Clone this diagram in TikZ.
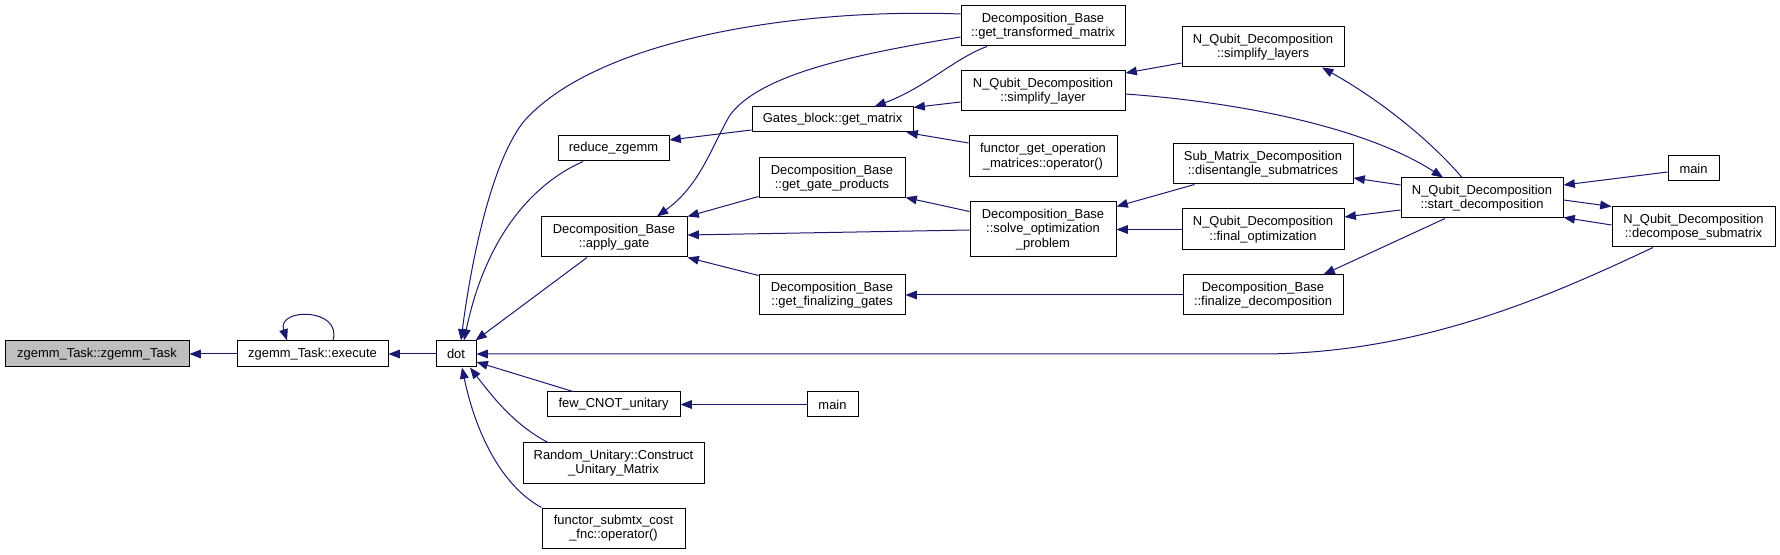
\documentclass[tikz,border=0pt]{standalone}
\usepackage{fontspec}
\setmainfont{Liberation Sans}
\usetikzlibrary{arrows.meta,calc}
\definecolor{edgeblue}{HTML}{191970}
\definecolor{curfill}{HTML}{BFBFBF}
\tikzset{
  fn/.style={draw=black,line width=0.75pt,rectangle,inner sep=0pt,align=center,
    font=\fontsize{9.7pt}{10.8pt}\selectfont},
  wh/.style 2 args={minimum width=#1*0.75pt,minimum height=#2*0.75pt},
  call/.style={draw=edgeblue,line width=0.75pt,-{Triangle[length=8.5pt,width=6.5pt]}},
}
\begin{document}
\begin{tikzpicture}[x=0.75pt,y=-0.75pt]
\useasboundingbox (0,0) rectangle (1780,555);
% nodes
\node[fn,wh={184}{26},fill=curfill] (zt) at (97,354) {zgemm\_Task::zgemm\_Task};
\node[fn,wh={151}{26}] (ex) at (312.5,354) {zgemm\_Task::execute};
\node[fn,wh={40}{26}] (dot) at (456,354) {dot};
\node[fn,wh={111}{25}] (rz) at (613.5,148.5) {reduce\_zgemm};
\node[fn,wh={146}{40}] (ag) at (614,237) {Decomposition\_Base\\::apply\_gate};
\node[fn,wh={133}{25}] (fc) at (613.5,404.5) {few\_CNOT\_unitary};
\node[fn,wh={181}{40}] (ru) at (613.5,463) {Random\_Unitary::Construct\\\_Unitary\_Matrix};
\node[fn,wh={143}{40}] (fs) at (613.5,528) {functor\_submtx\_cost\\\_fnc::operator()};
\node[fn,wh={161}{25}] (gm) at (832.5,119.5) {Gates\_block::get\_matrix};
\node[fn,wh={146}{40}] (gp) at (832,178) {Decomposition\_Base\\::get\_gate\_products};
\node[fn,wh={146}{40}] (gf) at (832,295) {Decomposition\_Base\\::get\_finalizing\_gates};
\node[fn,wh={51}{25}] (m2) at (832.5,404.5) {main};
\node[fn,wh={164}{40}] (tm) at (1043,26) {Decomposition\_Base\\::get\_transformed\_matrix};
\node[fn,wh={164}{40}] (sl) at (1043,91) {N\_Qubit\_Decomposition\\::simplify\_layer};
\node[fn,wh={148}{41}] (fo) at (1043,156.5) {functor\_get\_operation\\\_matrices::operator()};
\node[fn,wh={146}{55}] (so) at (1043,229.5) {Decomposition\_Base\\::solve\_optimization\\\_problem};
\node[fn,wh={162}{40}] (sls) at (1263,47) {N\_Qubit\_Decomposition\\::simplify\_layers};
\node[fn,wh={180}{40}] (ds) at (1263,164) {Sub\_Matrix\_Decomposition\\::disentangle\_submatrices};
\node[fn,wh={162}{41}] (fop) at (1263,229.5) {N\_Qubit\_Decomposition\\::final\_optimization};
\node[fn,wh={160}{40}] (fd) at (1263,295) {Decomposition\_Base\\::finalize\_decomposition};
\node[fn,wh={162}{40}] (sd) at (1482,198) {N\_Qubit\_Decomposition\\::start\_decomposition};
\node[fn,wh={51}{25}] (m1) at (1693.5,168.5) {main};
\node[fn,wh={163}{40}] (dsm) at (1693.5,227) {N\_Qubit\_Decomposition\\::decompose\_submatrix};
% edges
\draw[call] (ex.west) -- (zt.east);
\draw[call] ($(ex.north)+(20.5,0)$) .. controls ($(ex.north)+(30,-33)$) and ($(ex.north)+(-36,-33)$) .. ($(ex.north)+(-25.5,0)$);
\draw[call] (dot.west) -- (ex.east);
\draw[call] ($(tm.west)+(0,-12)$) .. controls (800,8) and (600,38) .. (525,120) .. controls (490,162) and (470,270) .. ($(dot.north)+(5,0)$);
\draw[call] ($(rz.south)+(-30.5,0)$) .. controls (530,185) and (485,240) .. ($(dot.north)+(8,0)$);
\draw[call] ($(ag.south)+(-27,0)$) -- ($(dot.north east)+(-1,0)$);
\draw[call] ($(gm.west)+(0,10.5)$) -- ($(rz.east)+(0,-8.5)$);
\draw[call] ($(tm.west)+(0,11)$) .. controls (850,55) and (760,75) .. (730,115) .. controls (710,150) and (700,185) .. ($(ag.north)+(43,0)$);
\draw[call] ($(tm.south)+(-56,0)$) .. controls (955,58) and (925,88) .. ($(gm.north)+(42,0)$);
\draw[call] ($(sl.west)+(0,11)$) -- ($(gm.north east)+(0,1)$);
\draw[call] ($(fo.west)+(0,-13.5)$) -- ($(gm.south east)+(-7,0)$);
\draw[call] ($(gp.south west)+(0,-2)$) -- (ag.north east);
\draw[call] ($(so.west)+(0,0.5)$) -- ($(ag.east)+(0,-2)$);
\draw[call] ($(gf.north west)+(0,1)$) -- (ag.south east);
\draw[call] ($(so.north west)+(0,10)$) -- ($(gp.south east)+(0,-1)$);
\draw[call] (fd.west) -- (gf.east);
\draw[call] ($(dsm.south)+(-40.5,0)$) .. controls (1550,296) and (1420,354) .. (1260,354) -- (dot.east);
\draw[call] ($(fc.north)+(-40.5,0)$) -- ($(dot.east)+(0,8)$);
\draw[call] (m2.west) -- (fc.east);
\draw[call] ($(ru.north)+(-65.5,0)$) .. controls (515,425) and (495,400) .. ($(dot.south)+(14,0)$);
\draw[call] (fs.north west) .. controls (500,485) and (475,430) .. ($(dot.south)+(6,0)$);
\draw[call] ($(sls.west)+(0,16)$) -- ($(sl.east)+(0,-18)$);
\draw[call] ($(ds.south west)+(22,0)$) -- ($(so.north east)+(0,5)$);
\draw[call] (fop.west) -- (so.east);
\draw[call] ($(sd.north)+(-20,0)$) .. controls (1430,140) and (1380,100) .. ($(sls.south)+(59,0)$);
\draw[call] ($(sl.east)+(0,3)$) .. controls (1250,103) and (1370,130) .. ($(sd.north)+(-39,0)$);
\draw[call] ($(sd.west)+(0,-13)$) -- ($(ds.east)+(0,14)$);
\draw[call] ($(sd.west)+(0,12)$) -- ($(fop.east)+(0,-12.5)$);
\draw[call] ($(sd.south)+(-37,0)$) -- ($(fd.north east)+(-20,0)$);
\draw[call] ($(m1.west)+(0,3.5)$) -- ($(sd.east)+(0,-13)$);
\draw[call] ($(sd.east)+(0,2)$) -- (dsm.north west);
\draw[call] ($(dsm.west)+(0,-2)$) -- ($(sd.south east)+(0,-1)$);
\end{tikzpicture}
\end{document}
